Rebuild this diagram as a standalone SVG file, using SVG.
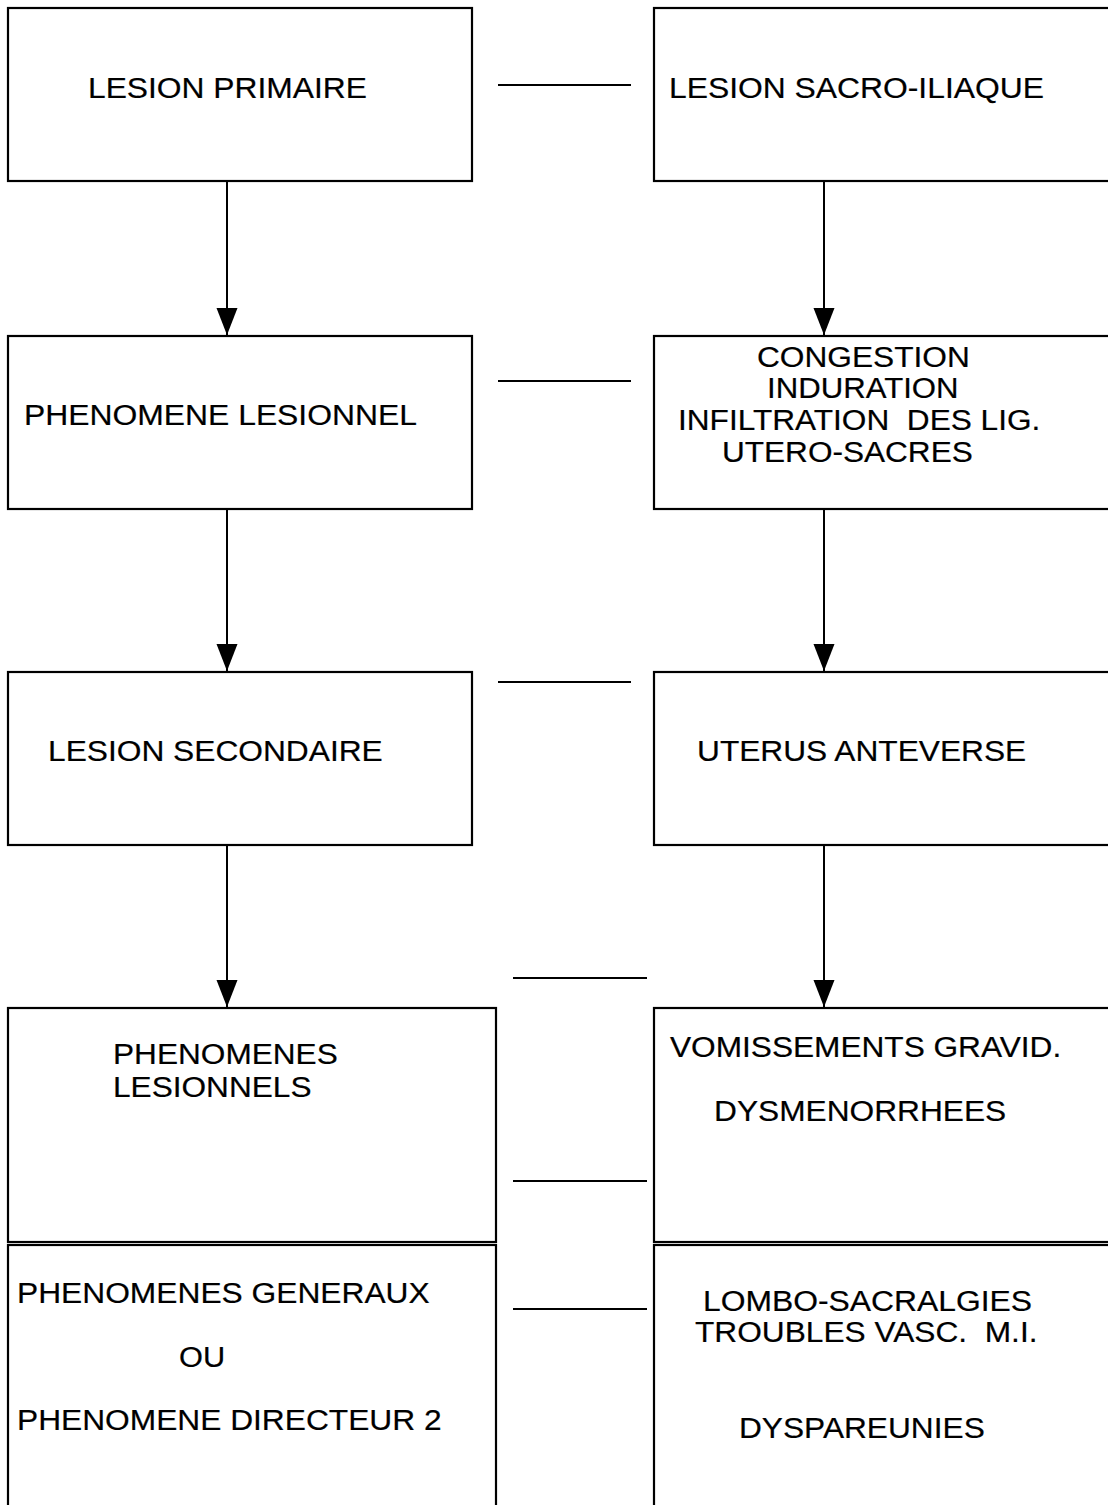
<svg xmlns="http://www.w3.org/2000/svg" width="1108" height="1505" viewBox="0 0 1108 1505">
  <style>
    .box { fill: #ffffff; stroke: #000000; stroke-width: 2.2; }
    .link { stroke: #000000; stroke-width: 2.2; fill: none; }
    .flow { stroke: #000000; stroke-width: 2; fill: none; marker-end: url(#head); }
    text { font-family: "Liberation Sans", Arial, Helvetica, sans-serif; font-size: 29px; fill: #000000; stroke: #000000; stroke-width: 0.2; white-space: pre; }
  </style>
  <defs>
    <marker id="head" markerUnits="userSpaceOnUse" markerWidth="28" markerHeight="22" refX="27" refY="10.5" orient="auto" viewBox="0 0 28 21">
      <path d="M0,0 L27,10.5 L0,21 Z" fill="#000000" stroke="none"/>
    </marker>
  </defs>

  <rect x="0" y="0" width="1108" height="1505" fill="#ffffff"/>

  <!-- left column (labels use a slightly widened Helvetica-like face) -->
  <g id="lesion-primaire">
    <rect class="box" x="8" y="8" width="464" height="173"/>
    <text transform="translate(88,98) scale(1.096,1)">LESION PRIMAIRE</text>
  </g>
  <g id="phenomene-lesionnel">
    <rect class="box" x="8" y="336" width="464" height="173"/>
    <text transform="translate(24,425) scale(1.099,1)">PHENOMENE LESIONNEL</text>
  </g>
  <g id="lesion-secondaire">
    <rect class="box" x="8" y="672" width="464" height="173"/>
    <text transform="translate(48,761) scale(1.094,1)">LESION SECONDAIRE</text>
  </g>
  <g id="phenomenes-lesionnels">
    <rect class="box" x="8" y="1008" width="488" height="234"/>
    <text transform="translate(113,1064) scale(1.09,1)">PHENOMENES</text>
    <text transform="translate(113,1097) scale(1.09,1)">LESIONNELS</text>
  </g>
  <g id="phenomenes-generaux">
    <rect class="box" x="8" y="1245" width="488" height="300"/>
    <text transform="translate(17,1303) scale(1.095,1)">PHENOMENES GENERAUX</text>
    <text transform="translate(179,1367) scale(1.06,1)">OU</text>
    <text transform="translate(17,1430) scale(1.094,1)">PHENOMENE DIRECTEUR 2</text>
  </g>

  <!-- right column -->
  <g id="lesion-sacro-iliaque">
    <rect class="box" x="654" y="8" width="470" height="173"/>
    <text transform="translate(669,98) scale(1.098,1)">LESION SACRO-ILIAQUE</text>
  </g>
  <g id="congestion">
    <rect class="box" x="654" y="336" width="470" height="173"/>
    <text transform="translate(757,367) scale(1.092,1)">CONGESTION</text>
    <text transform="translate(767,398) scale(1.075,1)">INDURATION</text>
    <text transform="translate(678,430) scale(1.09,1)" xml:space="preserve">INFILTRATION  DES LIG.</text>
    <text transform="translate(722,462) scale(1.089,1)">UTERO-SACRES</text>
  </g>
  <g id="uterus-anteverse">
    <rect class="box" x="654" y="672" width="470" height="173"/>
    <text transform="translate(697,761) scale(1.093,1)">UTERUS ANTEVERSE</text>
  </g>
  <g id="vomissements">
    <rect class="box" x="654" y="1008" width="470" height="234"/>
    <text transform="translate(670,1057) scale(1.091,1)">VOMISSEMENTS GRAVID.</text>
    <text transform="translate(714,1121) scale(1.093,1)">DYSMENORRHEES</text>
  </g>
  <g id="lombo-sacralgies">
    <rect class="box" x="654" y="1245" width="470" height="300"/>
    <text transform="translate(703,1311) scale(1.098,1)">LOMBO-SACRALGIES</text>
    <text transform="translate(695,1342) scale(1.092,1)" xml:space="preserve">TROUBLES VASC.  M.I.</text>
    <text transform="translate(739,1438) scale(1.092,1)">DYSPAREUNIES</text>
  </g>

  <!-- connectors -->
  <g id="connectors">
    <line class="flow" x1="227" y1="181" x2="227" y2="335"/>
    <line class="flow" x1="227" y1="509" x2="227" y2="671"/>
    <line class="flow" x1="227" y1="845" x2="227" y2="1007"/>
    <line class="flow" x1="824" y1="181" x2="824" y2="335"/>
    <line class="flow" x1="824" y1="509" x2="824" y2="671"/>
    <line class="flow" x1="824" y1="845" x2="824" y2="1007"/>

    <line class="link" x1="498" y1="85" x2="631" y2="85"/>
    <line class="link" x1="498" y1="381" x2="631" y2="381"/>
    <line class="link" x1="498" y1="682" x2="631" y2="682"/>
    <line class="link" x1="513" y1="978" x2="647" y2="978"/>
    <line class="link" x1="513" y1="1181" x2="647" y2="1181"/>
    <line class="link" x1="513" y1="1309" x2="647" y2="1309"/>
  </g>
</svg>
